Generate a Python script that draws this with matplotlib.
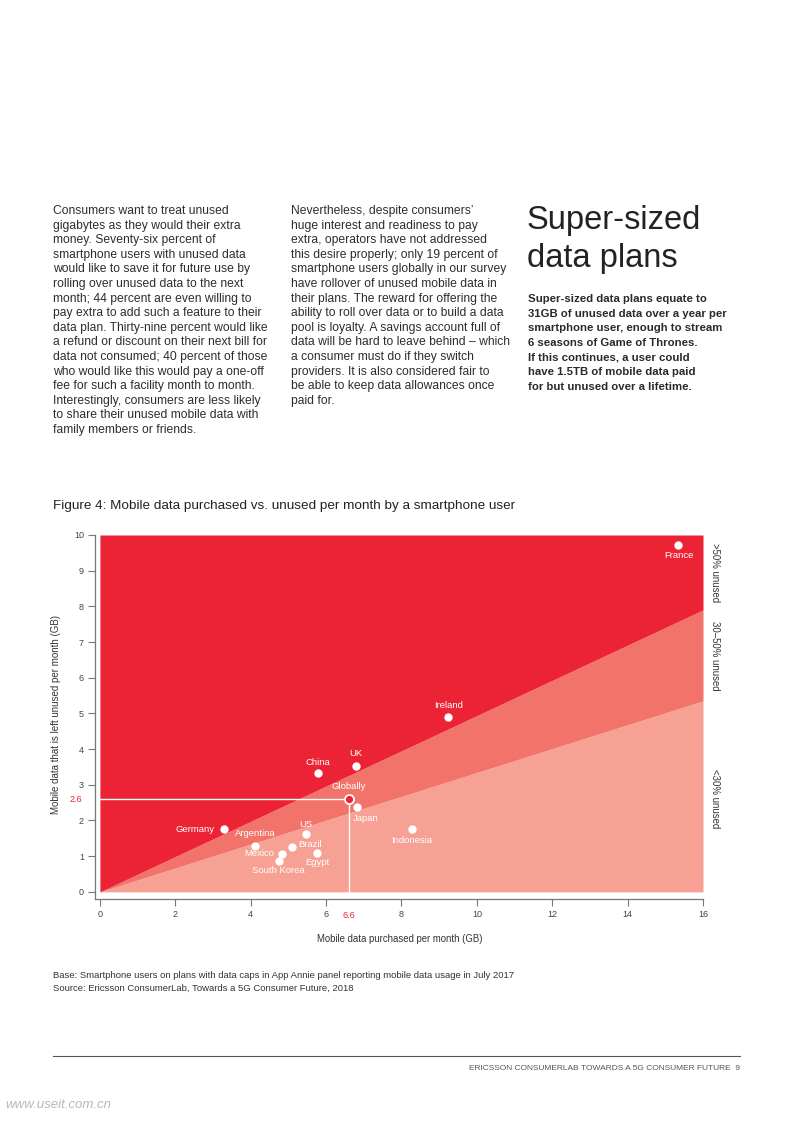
import matplotlib
matplotlib.use("Agg")
import matplotlib.pyplot as plt

plt.rcParams['font.family'] = ['Liberation Sans', 'DejaVu Sans']

# data
countries = ['France', 'Ireland', 'UK', 'China', 'Globally', 'Japan', 'Germany',
             'US', 'Argentina', 'Brazil', 'Mexico', 'Egypt', 'South Korea', 'Indonesia']
purchased = [15.35, 9.24, 6.79, 5.78, 6.6, 6.82, 3.30, 5.46, 4.12, 5.09, 4.83, 5.77, 4.74, 8.27]
unused = [9.72, 4.89, 3.54, 3.33, 2.6, 2.37, 1.75, 1.62, 1.29, 1.26, 1.07, 1.08, 0.87, 1.76]

band_x = [0, 16]
band_30 = [0, 5.35]   # lower boundary (<30% unused)
band_50 = [0, 7.9]    # upper boundary (>50% unused)
y_top = 10

x_ticks = [0, 2, 4, 6, 8, 10, 12, 14, 16]
y_ticks = [0, 1, 2, 3, 4, 5, 6, 7, 8, 9, 10]
band_labels = ['>50% unused', '30–50% unused', '<30% unused']

global_x, global_y = 6.6, 2.6

col1 = """Consumers want to treat unused
gigabytes as they would their extra
money. Seventy-six percent of
smartphone users with unused data
would like to save it for future use by
rolling over unused data to the next
month; 44 percent are even willing to
pay extra to add such a feature to their
data plan. Thirty-nine percent would like
a refund or discount on their next bill for
data not consumed; 40 percent of those
who would like this would pay a one-off
fee for such a facility month to month.
Interestingly, consumers are less likely
to share their unused mobile data with
family members or friends."""

col2 = """Nevertheless, despite consumers’
huge interest and readiness to pay
extra, operators have not addressed
this desire properly; only 19 percent of
smartphone users globally in our survey
have rollover of unused mobile data in
their plans. The reward for offering the
ability to roll over data or to build a data
pool is loyalty. A savings account full of
data will be hard to leave behind – which
a consumer must do if they switch
providers. It is also considered fair to
be able to keep data allowances once
paid for."""

col3 = """Super-sized data plans equate to
31GB of unused data over a year per
smartphone user, enough to stream
6 seasons of Game of Thrones.
If this continues, a user could
have 1.5TB of mobile data paid
for but unused over a lifetime."""

DARK = '#EC2335'
MID = '#F2736A'
LIGHT = '#F6A194'
W, H = 794, 1123

fig = plt.figure(figsize=(W / 100, H / 100), dpi=100)


def fx(px):
    return px / W


def fy(py):
    return 1 - py / H


# text columns
def column(text, x, y0, **kw):
    for i, line in enumerate(text.split('\n')):
        fig.text(fx(x), fy(y0 + i * 14.6), line, va='baseline', ha='left', **kw)


column(col1, 53, 214, fontsize=8.7, color='#2e2e2e')
column(col2, 291, 214, fontsize=8.7, color='#2e2e2e')
column(col3, 528, 302, fontsize=8.2, color='#2a2a2a', fontweight='bold')
fig.text(fx(527), fy(229), 'Super-sized', fontsize=23.5, color='#222222', va='baseline')
fig.text(fx(527), fy(267), 'data plans', fontsize=23.5, color='#222222', va='baseline')

fig.text(fx(53), fy(509), 'Figure 4: Mobile data purchased vs. unused per month by a smartphone user',
         fontsize=9.7, color='#222222', va='baseline')

# chart
ax = fig.add_axes([fx(95), fy(899), (703 - 95) / W, (899 - 535) / H])
ax.set_xlim(-0.13, 16)
ax.set_ylim(-0.2, 10)

ax.fill_between(band_x, 0, band_30, color=LIGHT, lw=0)
ax.fill_between(band_x, band_30, band_50, color=MID, lw=0)
ax.fill_between(band_x, band_50, y_top, color=DARK, lw=0)

ax.plot([0, global_x], [global_y, global_y], color='white', lw=1)
ax.plot([global_x, global_x], [0, global_y], color='white', lw=1)

# label offsets in pixels (dx, dy, ha)
offsets = {
    'France': (0, -11, 'center'), 'Ireland': (0, 12, 'center'), 'UK': (0, 12, 'center'),
    'China': (0, 11, 'center'), 'Globally': (0, 13, 'center'), 'Japan': (9, -11, 'center'),
    'Germany': (-10, 0, 'right'), 'US': (0, 10, 'center'), 'Argentina': (0, 12, 'center'),
    'Brazil': (6, 2, 'left'), 'Mexico': (-8, 0, 'right'), 'Egypt': (0, -9, 'center'),
    'South Korea': (0, -10, 'center'), 'Indonesia': (0, -11, 'center'),
}

for name, x, y in zip(countries, purchased, unused):
    if name == 'Globally':
        ax.plot(x, y, 'o', ms=6.5, mfc=DARK, mec='white', mew=1.3, zorder=5)
    else:
        ax.plot(x, y, 'o', ms=5, mfc='white', mec='white', zorder=5)
    dx, dy, ha = offsets[name]
    ax.annotate(name, (x, y), xytext=(dx * 0.72, dy * 0.72), textcoords='offset points',
                ha=ha, va='center', fontsize=6.8, color='white', zorder=6)

for s in ['top', 'right']:
    ax.spines[s].set_visible(False)
for s in ['left', 'bottom']:
    ax.spines[s].set_color('#777777')
    ax.spines[s].set_linewidth(0.9)

ax.set_xticks(x_ticks)
ax.set_yticks(y_ticks)
ax.tick_params(direction='out', length=5, width=0.8, color='#777777',
               labelsize=6.5, labelcolor='#444444', pad=3)

ax.text(-0.021, global_y, '2.6', transform=ax.get_yaxis_transform(), ha='right', va='center',
        fontsize=6.5, color=DARK)
ax.text(global_x, -0.044, '6.6', transform=ax.get_xaxis_transform(), ha='center', va='center',
        fontsize=6.5, color=DARK)

for lab, ya in zip(band_labels, [0.898, 0.668, 0.277]):
    ax.text(1.0197, ya, lab, transform=ax.transAxes, rotation=-90, ha='center', va='center',
            fontsize=6.9, color='#333333')

fig.text(fx(400), fy(939), 'Mobile data purchased per month (GB)', ha='center', va='center',
         fontsize=6.9, color='#333333')
fig.text(fx(56), fy(715), 'Mobile data that is left unused per month (GB)', ha='center', va='center',
         rotation=90, fontsize=7.0, color='#333333')

fig.text(fx(53), fy(975), 'Base: Smartphone users on plans with data caps in App Annie panel reporting mobile data usage in July 2017',
         va='center', fontsize=6.8, color='#333333')
fig.text(fx(53), fy(988), 'Source: Ericsson ConsumerLab, Towards a 5G Consumer Future, 2018',
         va='center', fontsize=6.8, color='#333333')

# footer
fig.add_artist(plt.Line2D([fx(53), fx(740)], [fy(1056), fy(1056)], color='#555555', lw=0.8))
fig.text(fx(740), fy(1068), 'ERICSSON CONSUMERLAB TOWARDS A 5G CONSUMER FUTURE  9', ha='right',
         va='center', fontsize=6.0, color='#555555')
fig.text(fx(5), fy(1105), 'www.useit.com.cn', va='center', fontsize=9.5, color='#b8b8b8',
         fontstyle='italic')

fig.savefig('out.png', dpi=100)
